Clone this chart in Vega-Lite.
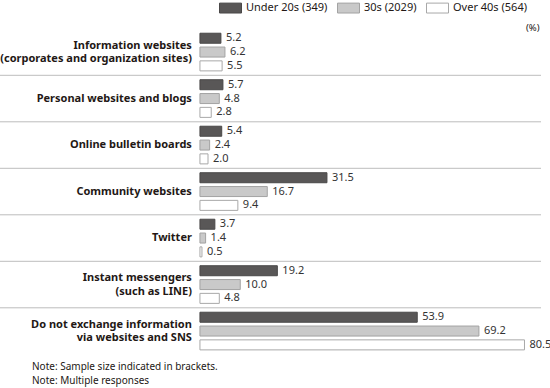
{
  "$schema": "https://vega.github.io/schema/vega-lite/v6.json",
  "autosize": {"type": "none"},
  "width": 541,
  "height": 325.5,
  "padding": {"left": 0, "top": 28.8, "right": 9, "bottom": 33.7},
  "background": "white",
  "config": {"view": {"stroke": null}, "font": "Noto Sans"},
  "title": {
    "text": ["Note: Sample size indicated in brackets.", "Note: Multiple responses"],
    "orient": "bottom",
    "anchor": "start",
    "frame": "group",
    "dx": 32,
    "offset": 8,
    "fontSize": 10,
    "fontWeight": "normal",
    "color": "#231815",
    "lineHeight": 13.5,
    "baseline": "top"
  },
  "datasets": {
    "bars": [
      {"cat": "info", "g": "Under 20s (349)", "v": 5.2},
      {"cat": "info", "g": "30s (2029)", "v": 6.2},
      {"cat": "info", "g": "Over 40s (564)", "v": 5.5},
      {"cat": "personal", "g": "Under 20s (349)", "v": 5.7},
      {"cat": "personal", "g": "30s (2029)", "v": 4.8},
      {"cat": "personal", "g": "Over 40s (564)", "v": 2.8},
      {"cat": "bbs", "g": "Under 20s (349)", "v": 5.4},
      {"cat": "bbs", "g": "30s (2029)", "v": 2.4},
      {"cat": "bbs", "g": "Over 40s (564)", "v": 2.0},
      {"cat": "community", "g": "Under 20s (349)", "v": 31.5},
      {"cat": "community", "g": "30s (2029)", "v": 16.7},
      {"cat": "community", "g": "Over 40s (564)", "v": 9.4},
      {"cat": "twitter", "g": "Under 20s (349)", "v": 3.7},
      {"cat": "twitter", "g": "30s (2029)", "v": 1.4},
      {"cat": "twitter", "g": "Over 40s (564)", "v": 0.5},
      {"cat": "im", "g": "Under 20s (349)", "v": 19.2},
      {"cat": "im", "g": "30s (2029)", "v": 10.0},
      {"cat": "im", "g": "Over 40s (564)", "v": 4.8},
      {"cat": "none", "g": "Under 20s (349)", "v": 53.9},
      {"cat": "none", "g": "30s (2029)", "v": 69.2},
      {"cat": "none", "g": "Over 40s (564)", "v": 80.5}
    ],
    "cats1": [
      {"cat": "personal", "label": "Personal websites and blogs"},
      {"cat": "bbs", "label": "Online bulletin boards"},
      {"cat": "community", "label": "Community websites"},
      {"cat": "twitter", "label": "Twitter"}
    ],
    "cats2": [
      {"cat": "info", "lines": ["Information websites", "(corporates and organization sites)"]},
      {"cat": "im", "lines": ["Instant messengers", "(such as LINE)"]},
      {"cat": "none", "lines": ["Do not exchange information", "via websites and SNS"]}
    ],
    "seps": [
      {"cat": "personal"},
      {"cat": "bbs"},
      {"cat": "community"},
      {"cat": "twitter"},
      {"cat": "im"},
      {"cat": "none"}
    ]
  },
  "layer": [
    {
      "data": {"name": "seps"},
      "mark": {"type": "rule", "color": "#bdbdbd", "strokeWidth": 1},
      "encoding": {
        "y": {"field": "cat", "type": "nominal", "bandPosition": 0}
      }
    },
    {
      "data": {"name": "bars"},
      "mark": {"type": "bar", "strokeWidth": 1},
      "encoding": {
        "y": {"field": "cat", "type": "nominal"},
        "yOffset": {"field": "g", "type": "nominal", "sort": ["Under 20s (349)", "30s (2029)", "Over 40s (564)"], "scale": {"paddingInner": 0.275, "paddingOuter": 0.32}},
        "x": {"field": "v", "type": "quantitative"},
        "color": {
          "field": "g", "type": "nominal", "title": null,
          "scale": {"domain": ["Under 20s (349)", "30s (2029)", "Over 40s (564)"], "range": ["#595757", "#c9c9c9", "#ffffff"]},
          "legend": {
            "orient": "none", "legendX": 219, "legendY": -32.5, "direction": "horizontal",
            "symbolType": "M-1,-0.45H1V0.45H-1Z", "symbolSize": 484, "symbolStrokeWidth": 1,
            "labelFontSize": 11, "labelColor": "#231815", "columnPadding": 7, "labelOffset": 4, "labelLimit": 200
          }
        },
        "stroke": {
          "field": "g", "type": "nominal", "title": null,
          "scale": {"domain": ["Under 20s (349)", "30s (2029)", "Over 40s (564)"], "range": ["#4a4848", "#a3a3a3", "#a8a8a8"]},
          "legend": {
            "orient": "none", "legendX": 219, "legendY": -32.5, "direction": "horizontal",
            "symbolType": "M-1,-0.45H1V0.45H-1Z", "symbolSize": 484, "symbolStrokeWidth": 1,
            "labelFontSize": 11, "labelColor": "#231815", "columnPadding": 7, "labelOffset": 4, "labelLimit": 200
          }
        }
      }
    },
    {
      "data": {"name": "bars"},
      "mark": {"type": "text", "align": "left", "baseline": "middle", "dx": 5, "fontSize": 11, "color": "#333333"},
      "encoding": {
        "y": {"field": "cat", "type": "nominal"},
        "yOffset": {"field": "g", "type": "nominal", "sort": ["Under 20s (349)", "30s (2029)", "Over 40s (564)"]},
        "x": {"field": "v", "type": "quantitative"},
        "text": {"field": "v", "type": "quantitative", "format": ".1f"}
      }
    },
    {
      "data": {"name": "cats1"},
      "mark": {"type": "text", "align": "right", "baseline": "middle", "fontSize": 11, "fontWeight": "bold", "color": "#231815"},
      "encoding": {
        "y": {"field": "cat", "type": "nominal"},
        "x": {"datum": -2, "type": "quantitative"},
        "text": {"field": "label", "type": "nominal"}
      }
    },
    {
      "data": {"name": "cats2"},
      "mark": {"type": "text", "align": "right", "baseline": "middle", "dy": -6.5, "fontSize": 11, "fontWeight": "bold", "lineHeight": 13.5, "color": "#231815"},
      "encoding": {
        "y": {"field": "cat", "type": "nominal"},
        "x": {"datum": -2, "type": "quantitative"},
        "text": {"field": "lines", "type": "nominal"}
      }
    }
  ],
  "encoding": {
    "y": {
      "field": "cat", "type": "nominal",
      "sort": ["info", "personal", "bbs", "community", "twitter", "im", "none"],
      "scale": {"domain": ["info", "personal", "bbs", "community", "twitter", "im", "none"], "paddingInner": 0, "paddingOuter": 0},
      "axis": null
    },
    "x": {
      "type": "quantitative",
      "scale": {"domain": [-49.6, 84.6], "nice": false, "zero": false},
      "axis": {"orient": "top", "labels": false, "ticks": false, "domain": false, "grid": false, "title": "(%)", "titleAnchor": "end", "titleAlign": "right", "titleFontSize": 9.5, "titleFontWeight": "normal", "titleColor": "#231815", "titleY": -1, "titleBaseline": "middle", "titleX": 539}
    }
  }
}
